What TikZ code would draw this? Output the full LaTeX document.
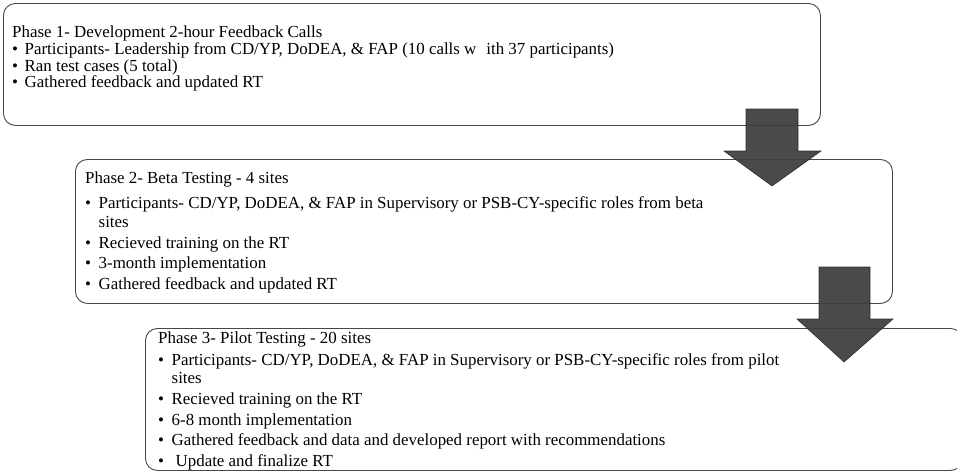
\documentclass[tikz,border=0pt]{standalone}
\usepackage{fontspec}
\setmainfont{Liberation Serif}
\newcommand\blA{\makebox[12.5pt][l]{\textbullet}}
\newcommand\blB{\makebox[13.5pt][l]{\textbullet}}
\newcommand\indB{\hspace*{13.5pt}}
\tikzset{
  phasebox/.style={draw=black!72, line width=0.9pt, fill=white, rounded corners=12pt,
    rectangle, inner sep=0pt, anchor=north west},
  txt/.style={inner sep=0pt, anchor=base west, text=black},
  blockarrow/.style={fill=black!76, draw=black!85, line width=0.6pt, fill opacity=0.93, draw opacity=0.9}
}
\begin{document}
\begin{tikzpicture}[x=1pt,y=-1pt]
\useasboundingbox (0,0) rectangle (957,471);
% boxes
\node[phasebox, minimum width=817pt, minimum height=122pt] (b1) at (3,3) {};
\node[phasebox, minimum width=817pt, minimum height=144pt] (b2) at (75,159) {};
\node[phasebox, minimum width=817pt, minimum height=142pt] (b3) at (145,328) {};
% texts
\node[txt] (t1) at (12,37.5) {\parbox[t]{820pt}{\fontsize{16.9}{16.5}\selectfont
Phase 1- Development 2-hour Feedback Calls\\[0.5pt]
\blA Participants- Leadership from CD/YP, DoDEA, \& FAP (10 calls w\hspace{10pt}ith 37 participants)\\
\blA Ran test cases (5 total)\\
\blA Gathered feedback and updated RT}};
\node[txt] (t2) at (85,183) {\parbox[t]{820pt}{\fontsize{16.9}{18.5}\selectfont
Phase 2- Beta Testing - 4 sites\\[7pt]
\blB Participants- CD/YP, DoDEA, \& FAP in Supervisory or PSB-CY-specific roles from beta\\
\indB sites\\[2.5pt]
\blB Recieved training on the RT\\[2pt]
\blB 3-month implementation\\[2pt]
\blB Gathered feedback and updated RT}};
\node[txt] (t3) at (158,343) {\parbox[t]{820pt}{\fontsize{16.9}{18.5}\selectfont
Phase 3- Pilot Testing - 20 sites\\[3.5pt]
\blB Participants- CD/YP, DoDEA, \& FAP in Supervisory or PSB-CY-specific roles from pilot\\
\indB sites\\[2.5pt]
\blB Recieved training on the RT\\[2pt]
\blB 6-8 month implementation\\[2pt]
\blB Gathered feedback and data and developed report with recommendations\\[2pt]
\blB\hspace{4pt}Update and finalize RT}};
% block arrows
\path[blockarrow] (746,109) -- (798,109) -- (798,151) -- (821,151) -- (772,186)
  -- (724,151) -- (746,151) -- cycle;
\path[blockarrow] (819,267) -- (870,267) -- (870,319) -- (893,319) -- (844,362)
  -- (797,319) -- (819,319) -- cycle;
\end{tikzpicture}
\end{document}
